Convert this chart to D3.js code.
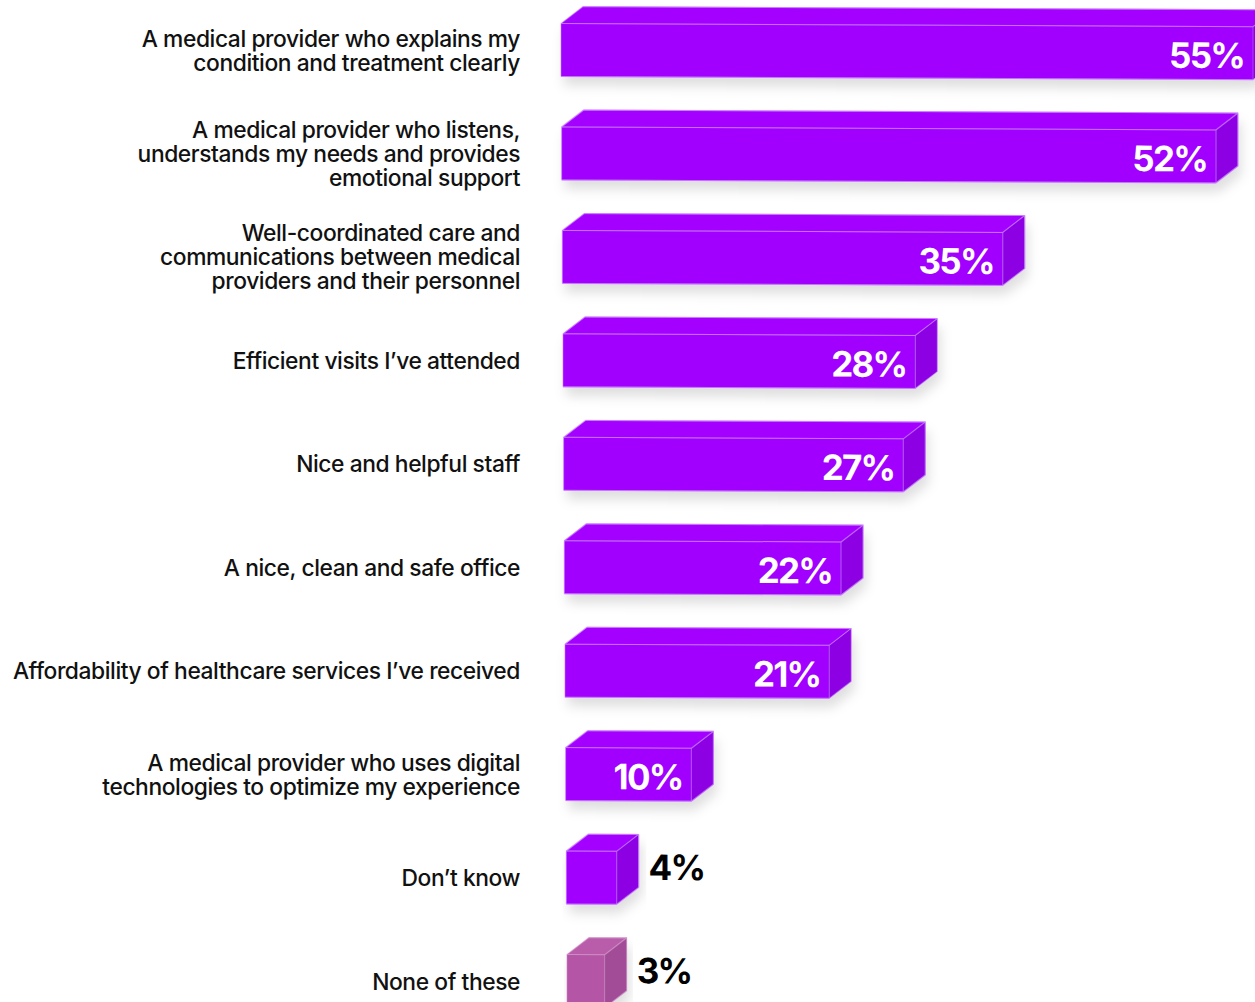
<!DOCTYPE html>
<html>
<head>
<meta charset="utf-8">
<script src="https://cdn.jsdelivr.net/npm/d3@7"></script>
<style>
  html, body { margin: 0; padding: 0; background: #ffffff; }
  svg { display: block; }
  .cat { font-family: Inter, "Noto Sans", sans-serif; font-weight: 500; font-size: 22.8px; fill: #111111; letter-spacing: -0.42px; }
  .val { font-family: Inter, "Noto Sans", sans-serif; font-weight: 700; font-size: 35px; letter-spacing: -1.8px; }
</style>
</head>
<body>
<svg id="chart" width="1255" height="1002"></svg>
<script>
// Survey answers (line breaks marked with \n) and share of respondents, in %
const categories = [
  "A medical provider who explains my\ncondition and treatment clearly",
  "A medical provider who listens,\nunderstands my needs and provides\nemotional support",
  "Well-coordinated care and\ncommunications between medical\nproviders and their personnel",
  "Efficient visits I’ve attended",
  "Nice and helpful staff",
  "A nice, clean and safe office",
  "Affordability of healthcare services I’ve received",
  "A medical provider who uses digital\ntechnologies to optimize my experience",
  "Don’t know",
  "None of these"
];
const values = [55, 52, 35, 28, 27, 22, 21, 10, 4, 3];
const valueLabels = values.map(v => v + "%");

// Box colours: front, top and side faces
const purple = { front: "#a100ff", top: "#a402ff", side: "#8c00e3", edge: "#c47dff" };
const mauve  = { front: "#b455a6", top: "#b95dab", side: "#a24b97", edge: "#d08fc6" };
const colourFor = cat => cat === "None of these" ? mauve : purple;

const W = 1255, H = 1002;
const svg = d3.select("#chart");

// Drop shadow under each box
const defs = svg.append("defs");
const f = defs.append("filter").attr("id", "shadow")
  .attr("x", "-5%").attr("y", "-40%").attr("width", "115%").attr("height", "200%");
f.append("feDropShadow").attr("dx", 3).attr("dy", 9).attr("stdDeviation", 6)
  .attr("flood-color", "#000").attr("flood-opacity", 0.13);

const x0 = 561;             // left edge of front faces
const lean = 0.0064;        // slight perspective drift of the left edge going down
const depthX = 22, depthY = -17;
const frontH = 53;
const labelRight = 520;
const lineH = 24;

const x = d3.scaleLinear().domain([0, 55]).range([0, 692]);
const y = d3.scalePoint().domain(categories).range([50, 981]);

const rows = svg.selectAll("g.row")
  .data(categories.map((c, i) => ({ cat: c, value: values[i], label: valueLabels[i] })))
  .join("g").attr("class", "row");

// Category labels
rows.each(function (d) {
  const lines = d.cat.split("\n");
  const cy = y(d.cat);
  const t = d3.select(this).append("text")
    .attr("class", "cat")
    .attr("text-anchor", "end");
  lines.forEach((ln, k) => {
    t.append("tspan")
      .attr("x", labelRight)
      .attr("y", cy + (k - (lines.length - 1) / 2) * lineH)
      .attr("dominant-baseline", "central")
      .text(ln);
  });
});

// 3D boxes
rows.each(function (d) {
  const cy = y(d.cat);
  const left = x0 + (cy - 50) * lean;
  const w = x(d.value);
  const col = colourFor(d.cat);
  const g = d3.select(this).append("g")
    .attr("transform", `translate(${left},${cy}) skewY(0.26)`);
  const top = -frontH / 2, bot = frontH / 2;

  const box = g.append("g").attr("filter", "url(#shadow)");
  // front face
  box.append("path")
    .attr("d", `M0,${top}H${w}V${bot}H0Z`)
    .attr("fill", col.front);
  // top face
  box.append("path")
    .attr("d", `M0,${top}L${depthX},${top + depthY}H${w + depthX}L${w},${top}Z`)
    .attr("fill", col.top);
  // side face
  box.append("path")
    .attr("d", `M${w},${top}L${w + depthX},${top + depthY}V${bot + depthY}L${w},${bot}Z`)
    .attr("fill", col.side);

  // highlight edges
  const edges = g.append("g").attr("fill", "none").attr("stroke", col.edge)
    .attr("stroke-width", 1).attr("stroke-opacity", 0.8);
  edges.append("path").attr("d", `M0,${top}H${w}L${w + depthX},${top + depthY}`);
  edges.append("path").attr("d", `M0,${bot}H${w}L${w + depthX},${bot + depthY}V${top + depthY}H${depthX}L0,${top}V${bot}`)
    .attr("stroke-opacity", 0.55);
  edges.append("path").attr("d", `M${w},${top}V${bot}`).attr("stroke-opacity", 0.5);

  // value label: inside when it fits, otherwise beside the box
  const inside = w > 75;
  g.append("text")
    .attr("class", "val")
    .attr("x", inside ? w - 9 : w + depthX + 10)
    .attr("y", inside ? 2 : -11)
    .attr("dominant-baseline", "central")
    .attr("text-anchor", inside ? "end" : "start")
    .attr("fill", inside ? "#ffffff" : "#000000")
    .text(d.label);
});
</script>
</body>
</html>
